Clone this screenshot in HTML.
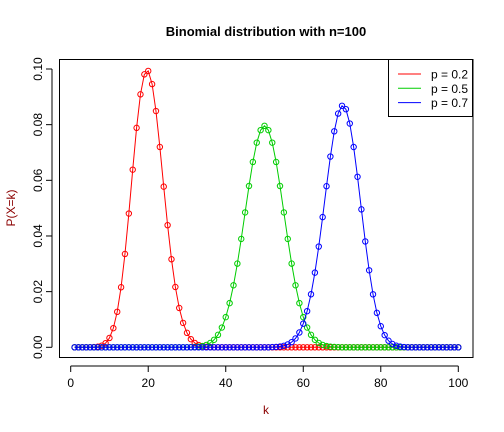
<!DOCTYPE html>
<html><head><meta charset="utf-8"><style>
body{margin:0;background:#fff}
svg{display:block;font-family:"Liberation Sans",Arial,sans-serif}
</style></head><body>
<svg id="c" width="504" height="432"></svg>
<script>
const kStart = 1, kEnd = 100;
const seriesNames = ["p = 0.2", "p = 0.5", "p = 0.7"];
const seriesColors = ["#ff0000", "#00cd00", "#0000ff"];
const p02Start = 6;
const p02Vals = [0.00006,0.0002,0.00058,0.00148,0.00336,0.00688,0.01275,0.02158,0.03353,0.04806,0.06383,0.07885,0.0909,0.09807,0.0993,0.09457,0.0849,0.07198,0.05773,0.04388,0.03164,0.02168,0.01413,0.00877,0.00519,0.00293,0.00158,0.00081,0.0004,0.00019,0.00008];
const p05Start = 31;
const p05Vals = [0.00005,0.00011,0.00023,0.00046,0.00086,0.00156,0.0027,0.00447,0.00711,0.01084,0.01587,0.02229,0.03007,0.03895,0.04847,0.05796,0.06659,0.07353,0.07803,0.07959,0.07803,0.07353,0.06659,0.05796,0.04847,0.03895,0.03007,0.02229,0.01587,0.01084,0.00711,0.00447,0.0027,0.00156,0.00086,0.00046,0.00023,0.00011,0.00005];
const p07Start = 52;
const p07Vals = [0.00007,0.00014,0.00028,0.00055,0.00103,0.00185,0.0032,0.00532,0.00849,0.01299,0.01906,0.02683,0.0362,0.04678,0.05788,0.06854,0.07761,0.08398,0.08678,0.08556,0.08041,0.07197,0.06127,0.04956,0.03804,0.02767,0.01904,0.01237,0.00758,0.00437,0.00236,0.00119,0.00056,0.00025,0.0001];
const xTicks = [0,20,40,60,80,100];
const yTicks = [0,0.02,0.04,0.06,0.08,0.10];
const yTickLabels = ["0.00","0.02","0.04","0.06","0.08","0.10"];

const NS="http://www.w3.org/2000/svg", svg=document.getElementById('c');
const box={l:59.5,t:59.5,r:473,b:357.5};
const X=v=>70.7+(v-0)*(458.3-70.7)/100;
const Y=v=>347.3-v*(347.3-69)/0.10;
function mk(t,a,p){const e=document.createElementNS(NS,t);for(const k in a)e.setAttribute(k,a[k]);(p||svg).appendChild(e);return e;}
function full(start,vals){const out=[];for(let k=kStart;k<=kEnd;k++){const i=k-start;out.push(i>=0&&i<vals.length?vals[i]:0);}return out;}
const series=[full(p02Start,p02Vals),full(p05Start,p05Vals),full(p07Start,p07Vals)];

let e;
e=mk('text',{x:266,y:36,'text-anchor':'middle','font-size':13,'font-weight':'bold'});e.textContent='Binomial distribution with n=100';


e=mk('rect',{x:box.l,y:box.t,width:box.r-box.l,height:box.b-box.t,fill:'none',stroke:'#000','stroke-width':1});



const xa=mk('g',{});


mk('line',{x1:X(0),x2:X(100),y1:366,y2:366,stroke:'#000'},xa);
xTicks.forEach(t=>{mk('line',{x1:X(t),x2:X(t),y1:366,y2:372,stroke:'#000'},xa);
 const tx=mk('text',{x:X(t),y:387,'text-anchor':'middle','font-size':12},xa);tx.textContent=t;
 
 });
e=mk('text',{x:266,y:414,'text-anchor':'middle','font-size':12,fill:'#8b0000'});e.textContent='k';



const ya=mk('g',{});


mk('line',{x1:52,x2:52,y1:Y(0),y2:Y(0.10),stroke:'#000'},ya);
yTicks.forEach((t,i)=>{mk('line',{x1:46,x2:52,y1:Y(t),y2:Y(t),stroke:'#000'},ya);
 const tx=mk('text',{x:42,y:Y(t),'text-anchor':'middle','font-size':12,transform:`rotate(-90 42 ${Y(t)})`},ya);tx.textContent=yTickLabels[i];
 
 });
e=mk('text',{x:15,y:208,'text-anchor':'middle','font-size':12,fill:'#8b0000',transform:'rotate(-90 15 208)'});e.textContent='P(X=k)';



series.forEach((vals,si)=>{
 const g=mk('g',{});
 
 
 let d='';vals.forEach((v,i)=>{d+=(i?'L':'M')+X(kStart+i).toFixed(2)+' '+Y(v).toFixed(2);});
 const ln=mk('path',{d:d,fill:'none',stroke:seriesColors[si],'stroke-width':1},g);
 
 
 vals.forEach((v,i)=>{const c=mk('circle',{cx:X(kStart+i),cy:Y(v),r:2.7,fill:'none',stroke:seriesColors[si],'stroke-width':1},g);
  
  });
});

const lg=mk('g',{});


mk('rect',{x:388.5,y:59.5,width:84,height:57,fill:'#fff',stroke:'#000'},lg);
seriesNames.forEach((n,i)=>{const yy=74+i*14.3;
 const le=mk('g',{},lg);
 
 
 mk('line',{x1:398,x2:421,y1:yy,y2:yy,stroke:seriesColors[i]},le);
 const t=mk('text',{x:431,y:yy+4.5,'font-size':12},le);t.textContent=n;});
</script>
</body></html>
